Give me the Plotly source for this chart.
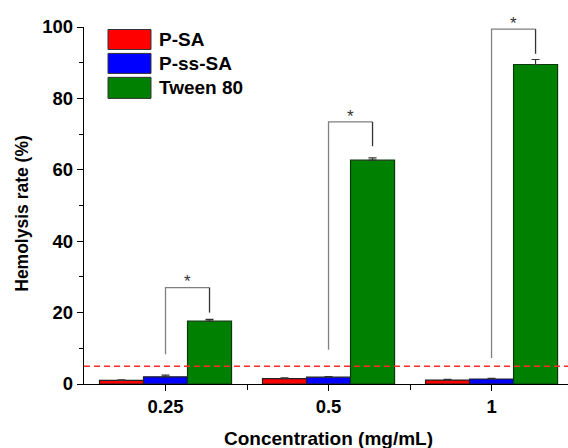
import plotly.graph_objects as go

categories = ["0.25", "0.5", "1"]
series_names = ["P-SA", "P-ss-SA", "Tween 80"]
p_sa = [1.0, 1.5, 1.1]
p_sa_err = [0.15, 0.2, 0.2]
p_ss_sa = [2.0, 1.9, 1.4]
p_ss_sa_err = [0.5, 0.2, 0.2]
tween80 = [17.6, 62.7, 89.5]
tween80_err = [0.5, 0.65, 1.4]
threshold = 5
bracket_left_bottom = [8.3, 9.6, 7.3]
bracket_top = [27.0, 73.4, 99.4]
bracket_right_bottom = [20.0, 66.6, 92.5]
y_ticks = [0, 20, 40, 60, 80, 100]
y_range = [0, 100]

colors = ["#ff0000", "#0000ff", "#008000"]
line_colors = ["#222222", "#222222", "#0a3a0a"]
FONT = "Liberation Sans, Arial, sans-serif"

x = list(range(len(categories)))
fig = go.Figure()
for name, vals, errs, c, lc in zip(series_names, [p_sa, p_ss_sa, tween80],
                                   [p_sa_err, p_ss_sa_err, tween80_err], colors, line_colors):
    fig.add_trace(go.Bar(
        x=x, y=vals, name=name, marker=dict(color=c, line=dict(color=lc, width=1.2)),
        error_y=dict(type="data", array=errs, arrayminus=[0] * len(errs), symmetric=False,
                     color="#333333", thickness=1.2, width=4),
        showlegend=False,
    ))

bw = 0.27
shapes = []
annotations = []
# threshold dashed line
shapes.append(dict(type="line", xref="paper", x0=0, x1=1, yref="y", y0=threshold, y1=threshold,
                   line=dict(color="#ff2a2a", width=1.5, dash="6px,4px"), layer="above"))
# significance brackets
for i in range(len(categories)):
    xl = i
    xr = i + bw
    shapes.append(dict(type="path", xref="x", yref="y",
                       path=f"M {xl},{bracket_left_bottom[i]} L {xl},{bracket_top[i]} L {xr},{bracket_top[i]}",
                       line=dict(color="#808080", width=1.3)))
    shapes.append(dict(type="line", xref="x", yref="y", x0=xr, x1=xr,
                       y0=bracket_top[i], y1=bracket_right_bottom[i],
                       line=dict(color="#333333", width=1.3)))
    star_y = (bracket_top[i] + 1.6 - y_range[0]) / (y_range[1] - y_range[0])
    annotations.append(dict(x=(xl + xr) / 2, y=star_y, xref="x", yref="paper",
                            text="*", showarrow=False, yanchor="middle",
                            font=dict(family=FONT, size=17, color="#333333")))

# legend drawn manually
leg_y = [(99.3, 93.7), (92.6, 87.0), (85.9, 80.0)]
for name, c, (y1, y0) in zip(series_names, colors, leg_y):
    shapes.append(dict(type="rect", xref="paper", yref="y", x0=0.0496, x1=0.1384, y0=y0, y1=y1,
                       fillcolor=c, line=dict(color="#333333", width=1)))
    annotations.append(dict(x=0.151, y=(y0 + y1) / 2, xref="paper", yref="y", text=name,
                            showarrow=False, xanchor="left", yanchor="middle",
                            font=dict(family=FONT, size=19, color="black", weight="bold")))

# axis titles
annotations.append(dict(x=0.506, y=-0.152, xref="paper", yref="paper", text="Concentration (mg/mL)",
                        showarrow=False, xanchor="center", yanchor="middle",
                        font=dict(family=FONT, size=19, color="black", weight="bold")))
annotations.append(dict(x=-0.128, y=0.477, xref="paper", yref="paper", text="Hemolysis rate (%)",
                        showarrow=False, xanchor="center", yanchor="middle", textangle=-90,
                        font=dict(family=FONT, size=17.5, color="black", weight="bold")))

fig.update_layout(
    width=568, height=448,
    margin=dict(l=84, r=0, t=27, b=64),
    plot_bgcolor="white", paper_bgcolor="white",
    barmode="group", bargap=0.19, bargroupgap=0,
    shapes=shapes, annotations=annotations,
    xaxis=dict(range=[-0.5, 2.469], tickmode="array", tickvals=x, ticktext=categories,
               showline=True, linecolor="black", linewidth=1.3, ticks="outside", ticklen=6,
               tickwidth=1.3, tickcolor="black", showgrid=False, zeroline=False,
               tickfont=dict(family=FONT, size=18.5, color="black", weight="bold"),
               minor=dict(tickmode="array", tickvals=[0.5, 1.5], ticks="outside", ticklen=5,
                          tickwidth=1.2, tickcolor="black", showgrid=False)),
    yaxis=dict(range=y_range, tickmode="array", tickvals=y_ticks,
               showline=True, linecolor="black", linewidth=1.3, ticks="outside", ticklen=6,
               tickwidth=1.3, tickcolor="black", showgrid=False, zeroline=False,
               tickfont=dict(family=FONT, size=18.5, color="black", weight="bold"),
               minor=dict(dtick=10, tick0=0, ticks="outside", ticklen=4, tickwidth=1.2,
                          tickcolor="black", showgrid=False)),
)

fig.write_html("out.html")
